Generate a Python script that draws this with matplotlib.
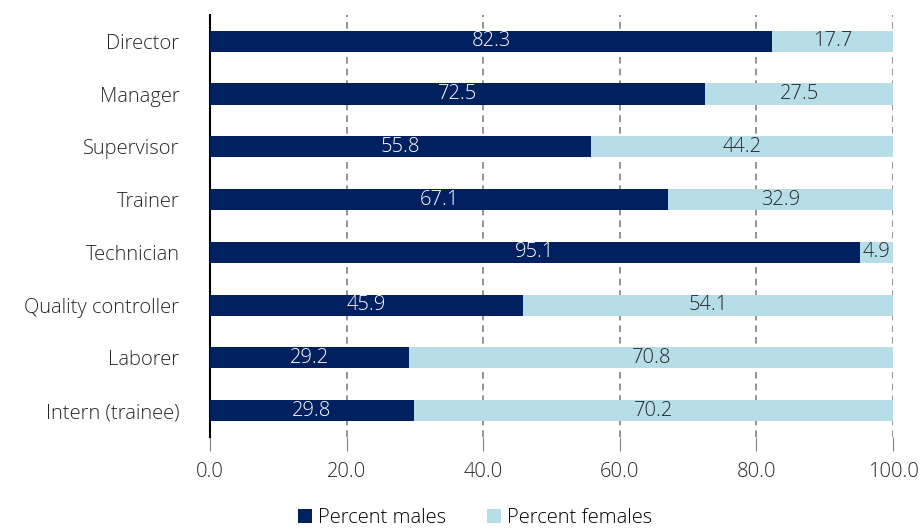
import matplotlib as mpl
mpl.use('Agg')
import matplotlib.pyplot as plt

roles = ['Director', 'Manager', 'Supervisor', 'Trainer', 'Technician',
         'Quality controller', 'Laborer', 'Intern (trainee)']
males = [82.3, 72.5, 55.8, 67.1, 95.1, 45.9, 29.2, 29.8]
females = [17.7, 27.5, 44.2, 32.9, 4.9, 54.1, 70.8, 70.2]

dark = '#002060'
light = '#B7DEE8'

plt.rcParams['font.family'] = ['Open Sans', 'DejaVu Sans']
plt.rcParams['font.size'] = 14.5
plt.rcParams['font.weight'] = 'light'

fig = plt.figure(figsize=(9.23, 5.31), dpi=100)
ax = fig.add_axes([0.2275, 0.177, 0.74, 0.795])

y = list(range(len(roles)))
ax.barh(y, males, height=0.4, color=dark, label='Percent males', zorder=3)
ax.barh(y, females, left=males, height=0.4, color=light, label='Percent females', zorder=3)

for i in y:
    ax.text(males[i] / 2, i, f'{males[i]:.1f}', ha='center', va='center',
            color='white', zorder=4)
    ax.text(males[i] + females[i] / 2, i, f'{females[i]:.1f}', ha='center',
            va='center', color='#262626', zorder=4)

ax.set_yticks(y)
ax.set_yticklabels(roles)
ax.set_ylim(7.5, -0.5)
ax.set_xlim(0, 100)
ax.set_xticks([0, 20, 40, 60, 80, 100])
ax.set_xticklabels([f'{v:.1f}' for v in [0, 20, 40, 60, 80, 100]])
ax.xaxis.grid(True, linestyle=(0, (4, 3)), color='#808080', linewidth=1.2, zorder=0)

for s in ['top', 'right', 'bottom']:
    ax.spines[s].set_visible(False)
ax.spines['left'].set_color('black')
ax.spines['left'].set_linewidth(1.5)
ax.tick_params(axis='y', length=0, pad=22, colors='#262626')
ax.tick_params(axis='x', length=10, color='#808080', pad=8, colors='#262626')

ax.legend(loc='upper center', bbox_to_anchor=(0.388, -0.135), ncol=2, frameon=False,
          handlelength=0.7, handleheight=0.7, columnspacing=2.0, handletextpad=0.3,
          borderpad=0.2)

fig.savefig('out.png', dpi=100)
